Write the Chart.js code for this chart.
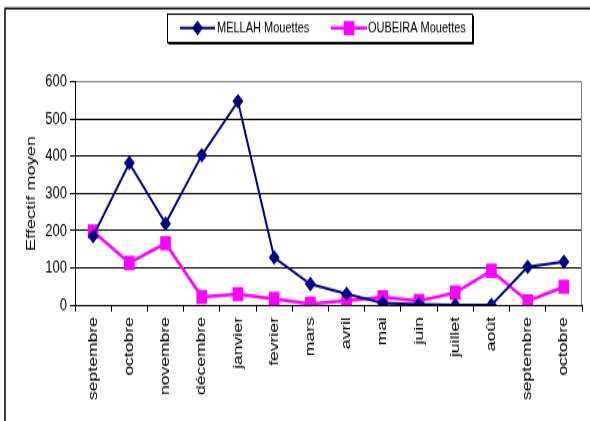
<!DOCTYPE html>
<html>
<head>
<meta charset="utf-8">
<script src="https://cdn.jsdelivr.net/npm/chart.js@4/dist/chart.umd.min.js"></script>
<style>
  html, body { margin: 0; padding: 0; background: #fff; }
  #c { display: block; }
</style>
</head>
<body>
<!-- the drawing buffer is shorter than its display box, so the chart is shown stretched vertically -->
<canvas id="c" width="590" height="312" style="width:590px;height:421px"></canvas>
<script>
const months = ['septembre', 'octobre', 'novembre', 'décembre', 'janvier', 'fevrier', 'mars',
                'avril', 'mai', 'juin', 'juillet', 'août', 'septembre', 'octobre'];
const mellah  = [185, 382, 219, 403, 548, 128, 56, 30, 5, 2, 0, 0, 103, 116];
const oubeira = [198, 113, 166, 22, 29, 16, 3, 12, 21, 11, 33, 92, 10, 49];
const yTicks  = [0, 100, 200, 300, 400, 500, 600];
const seriesNames = ['MELLAH Mouettes', 'OUBEIRA Mouettes'];

const FONT = "'Liberation Sans', Arial, sans-serif";
const NAVY = '#000080';
const MAGENTA = '#FF00FF';

function marker(ctx, style, x, y, r, color) {
  ctx.save();
  ctx.fillStyle = color;
  ctx.beginPath();
  if (style === 'rectRot') {
    ctx.moveTo(x, y - r); ctx.lineTo(x + r, y); ctx.lineTo(x, y + r); ctx.lineTo(x - r, y);
  } else {
    const h = r * Math.SQRT1_2;
    ctx.rect(x - h, y - h, 2 * h, 2 * h);
  }
  ctx.closePath();
  ctx.fill();
  ctx.restore();
}

// outer frame, plot border, and the boxed legend
const decorations = {
  id: 'decorations',
  beforeDraw(chart) {
    const ctx = chart.ctx;
    ctx.save();
    ctx.fillStyle = '#fff';
    ctx.fillRect(0, 0, chart.width, chart.height);
    ctx.restore();
  },
  afterDraw(chart) {
    const ctx = chart.ctx;
    const a = chart.chartArea;
    ctx.save();
    // frame
    ctx.strokeStyle = '#000';
    ctx.lineWidth = 1.5;
    ctx.beginPath();
    ctx.moveTo(5, chart.height);
    ctx.lineTo(5, 6.3);
    ctx.lineTo(chart.width, 6.3);
    ctx.stroke();
    // right border of the plot
    ctx.strokeStyle = '#808080';
    ctx.lineWidth = 1;
    ctx.beginPath();
    ctx.moveTo(Math.round(a.right) - 0.5, a.top);
    ctx.lineTo(Math.round(a.right) - 0.5, a.bottom);
    ctx.stroke();

    // legend box
    const bx = 167.5, by = 10.5, bw = 305, bh = 21;
    ctx.strokeStyle = '#000';
    ctx.lineWidth = 1;
    ctx.strokeRect(bx, by, bw, bh);
    ctx.beginPath();
    ctx.moveTo(bx + bw + 1, by + 1); ctx.lineTo(bx + bw + 1, by + bh + 1); ctx.lineTo(bx + 1, by + bh + 1);
    ctx.stroke();

    const items = [
      { x0: 180, x1: 215, tx: 217, ds: chart.data.datasets[0] },
      { x0: 331, x1: 367, tx: 368, ds: chart.data.datasets[1] }
    ];
    const ly = 20.8;
    ctx.font = '11px ' + FONT;
    ctx.textBaseline = 'middle';
    ctx.textAlign = 'left';
    items.forEach(it => {
      ctx.strokeStyle = it.ds.borderColor;
      ctx.lineWidth = it.ds.borderWidth;
      ctx.beginPath();
      ctx.moveTo(it.x0, ly); ctx.lineTo(it.x1, ly);
      ctx.stroke();
      marker(ctx, it.ds.pointStyle, (it.x0 + it.x1) / 2, ly, it.ds.pointRadius, it.ds.borderColor);
      ctx.fillStyle = '#000';
      ctx.fillText(it.ds.label, it.tx, ly + 0.5);
    });
    ctx.restore();
  }
};

const canvas = document.getElementById('c');
new Chart(canvas, {
  type: 'line',
  data: {
    labels: months,
    datasets: [
      {
        label: seriesNames[0],
        data: mellah,
        borderColor: NAVY,
        backgroundColor: NAVY,
        borderWidth: 2,
        pointStyle: 'rectRot',
        pointRadius: 5.5,
        pointBorderWidth: 0,
        pointBackgroundColor: NAVY,
        tension: 0
      },
      {
        label: seriesNames[1],
        data: oubeira,
        borderColor: MAGENTA,
        backgroundColor: MAGENTA,
        borderWidth: 2.5,
        pointStyle: 'rect',
        pointRadius: 7.5,
        pointBorderWidth: 0,
        pointBackgroundColor: MAGENTA,
        tension: 0
      }
    ]
  },
  options: {
    responsive: false,
    devicePixelRatio: 1,
    animation: false,
    layout: { padding: { top: 60.8, right: 8, left: 0, bottom: 0 } },
    plugins: { legend: { display: false }, tooltip: { enabled: false } },
    scales: {
      x: {
        offset: true,
        afterFit(scale) { scale.height = 86; },
        grid: {
          offset: true,
          drawOnChartArea: false,
          drawTicks: true,
          tickLength: 5,
          tickColor: '#000'
        },
        border: { display: true, color: '#000', width: 1 },
        ticks: {
          autoSkip: false,
          minRotation: 90,
          maxRotation: 90,
          padding: 4,
          color: '#000',
          font: { family: FONT, size: 13 }
        }
      },
      y: {
        min: yTicks[0],
        max: yTicks[yTicks.length - 1],
        afterFit(scale) { scale.width = 75; },
        afterBuildTicks(scale) { scale.ticks = yTicks.map(v => ({ value: v })); },
        grid: {
          color: ctx => (ctx.tick && ctx.tick.value === 600 ? '#808080' : '#000'),
          tickColor: '#000',
          tickLength: 5,
          lineWidth: 1
        },
        border: { display: true, color: '#000', width: 1 },
        ticks: {
          padding: 3,
          color: '#000',
          font: { family: FONT, size: 13 }
        },
        title: {
          display: true,
          text: 'Effectif moyen',
          color: '#000',
          padding: { top: 23, bottom: 0 },
          font: { family: FONT, size: 13.5 }
        }
      }
    }
  },
  plugins: [decorations]
});
canvas.style.width = '590px';
canvas.style.height = '421px';
</script>
</body>
</html>
